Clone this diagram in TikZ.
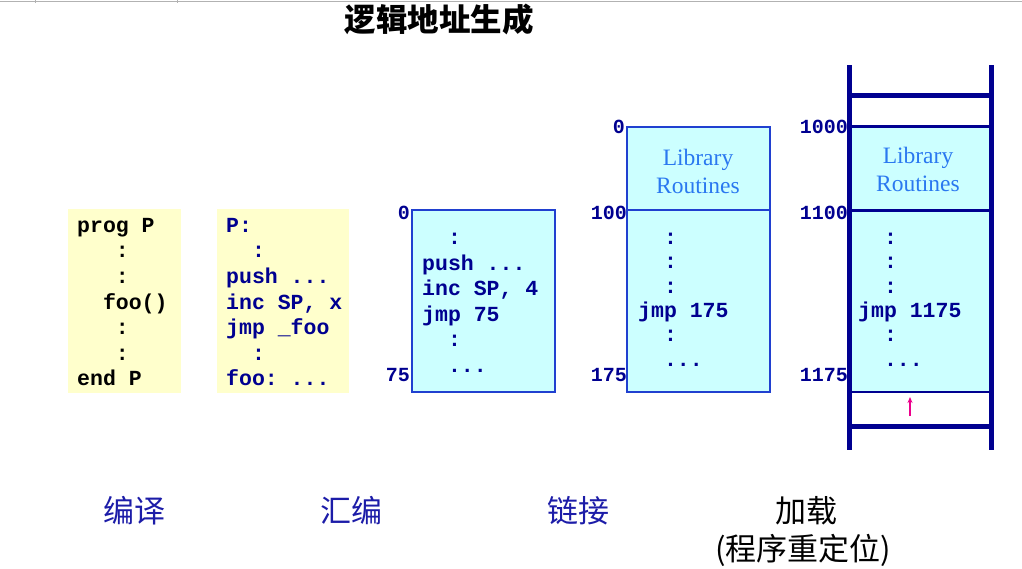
\documentclass[tikz,border=0pt]{standalone}
\usepackage{fontspec}
\setmainfont{Liberation Serif}
\setmonofont{Liberation Mono}
\newfontfamily\cjk{Noto Sans CJK SC}
\usepackage{xcolor}
\usetikzlibrary{positioning,arrows.meta}

\definecolor{navy}{HTML}{000090}
\definecolor{codeyellow}{HTML}{FFFFCC}
\definecolor{memcyan}{HTML}{CCFFFF}
\definecolor{boxblue}{HTML}{2040D0}
\definecolor{libblue}{HTML}{2A78F0}
\definecolor{stageblue}{HTML}{1C1CA8}

\tikzset{
  code/.style={anchor=north west, align=left, inner sep=0pt,
    font=\ttfamily\bfseries\fontsize{21.5}{25.6}\selectfont},
  addr/.style={anchor=east, inner sep=1pt, text=navy,
    font=\ttfamily\bfseries\fontsize{20}{24}\selectfont},
  lib/.style={align=center, text=libblue, font=\fontsize{23.5}{28}\selectfont},
  stage/.style={font=\cjk\fontsize{31}{36}\selectfont},
  seg/.style={draw=boxblue, line width=2pt, fill=memcyan},
  rail/.style={draw=navy, line width=5pt},
}
\newcommand{\pad}[1]{\hphantom{#1}}

\begin{document}
\begin{tikzpicture}[x=1pt,y=-1pt]
  \useasboundingbox (0,0) rectangle (1022,568);

  % slide edge
  \draw[gray!60, line width=1.5pt] (0,1.5) -- (1022,1.5);
  \draw[gray!60, line width=0.8pt] (35,0) -- (35,3) (177,0) -- (177,3);

  % title
  \node[font=\cjk\bfseries\fontsize{31.5}{36}\selectfont] (title) at (439,19) {逻辑地址生成};

  % source program
  \fill[codeyellow] (68,209) rectangle (181,393);
  \node[code] (src) at (77,218) {prog P\\ \pad{000}:\\ \pad{000}:\\ \pad{00}foo()\\ \pad{000}:\\ \pad{000}:\\ end P};

  % assembly
  \fill[codeyellow] (217,209) rectangle (349,393);
  \node[code, text=navy] (asm) at (226,218) {P:\\ \pad{00}:\\ push ...\\ inc SP, x\\ jmp \_foo\\ \pad{00}:\\ foo: ...};

  % object module
  \draw[seg] (412,210) rectangle (555,392);
  \node[code, text=navy] (obj) at (422,233) {\pad{00}:\\ push ...\\ inc SP, 4\\ jmp 75\\ \pad{00}:\\ \pad{00}...};
  \node[addr] (o0) at (411,213) {0};
  \node[addr] (o75) at (411,375) {75};

  % linked module
  \draw[seg] (627,127) rectangle (770,392);
  \draw[boxblue, line width=2pt] (627,210) -- (770,210);
  \node[lib] (lib1) at (698,171) {Library\\Routines};
  \node[code, text=navy, font=\ttfamily\bfseries\fontsize{21.5}{24.3}\selectfont] (lnk) at (638,233) {\pad{00}:\\ \pad{00}:\\ \pad{00}:\\ jmp 175\\ \pad{00}:\\ \pad{00}...};
  \node[addr] (l0) at (626,127) {0};
  \node[addr] (l100) at (628,213) {100};
  \node[addr] (l175) at (628,375) {175};

  % memory
  \fill[memcyan] (849,126) rectangle (991,392);
  \draw[navy, line width=3pt] (849,126) -- (991,126);
  \draw[navy, line width=3pt] (849,210) -- (991,210);
  \draw[navy, line width=2pt] (849,392) -- (991,392);
  \draw[rail] (849,95) -- (991,95);
  \draw[rail] (849,426) -- (991,426);
  \draw[rail] (849,65) -- (849,450);
  \draw[rail] (991,65) -- (991,450);
  \node[lib] (lib2) at (918,169) {Library\\Routines};
  \node[code, text=navy, font=\ttfamily\bfseries\fontsize{21.5}{24.3}\selectfont] (mem) at (858,233) {\pad{00}:\\ \pad{00}:\\ \pad{00}:\\ jmp 1175\\ \pad{00}:\\ \pad{00}...};
  \node[addr] (m1000) at (849,127) {1000};
  \node[addr] (m1100) at (849,213) {1100};
  \node[addr] (m1175) at (849,375) {1175};

  % relocation pointer
  \coordinate (ptrfoot) at (910,416);
  \coordinate (ptrhead) at (910,397);
  \draw[-{Stealth[length=6pt,width=5pt]}, magenta, line width=1.2pt] (ptrfoot) -- (ptrhead);

  % stages
  \node[stage, text=stageblue] (s1) at (134,511) {编译};
  \node[stage, text=stageblue] (s2) at (351,511) {汇编};
  \node[stage, text=stageblue] (s3) at (578,511) {链接};
  \node[stage] (s4) at (806,511) {加载};
  \node[stage] (s4b) at (803,550) {(程序重定位)};
\end{tikzpicture}
\end{document}
